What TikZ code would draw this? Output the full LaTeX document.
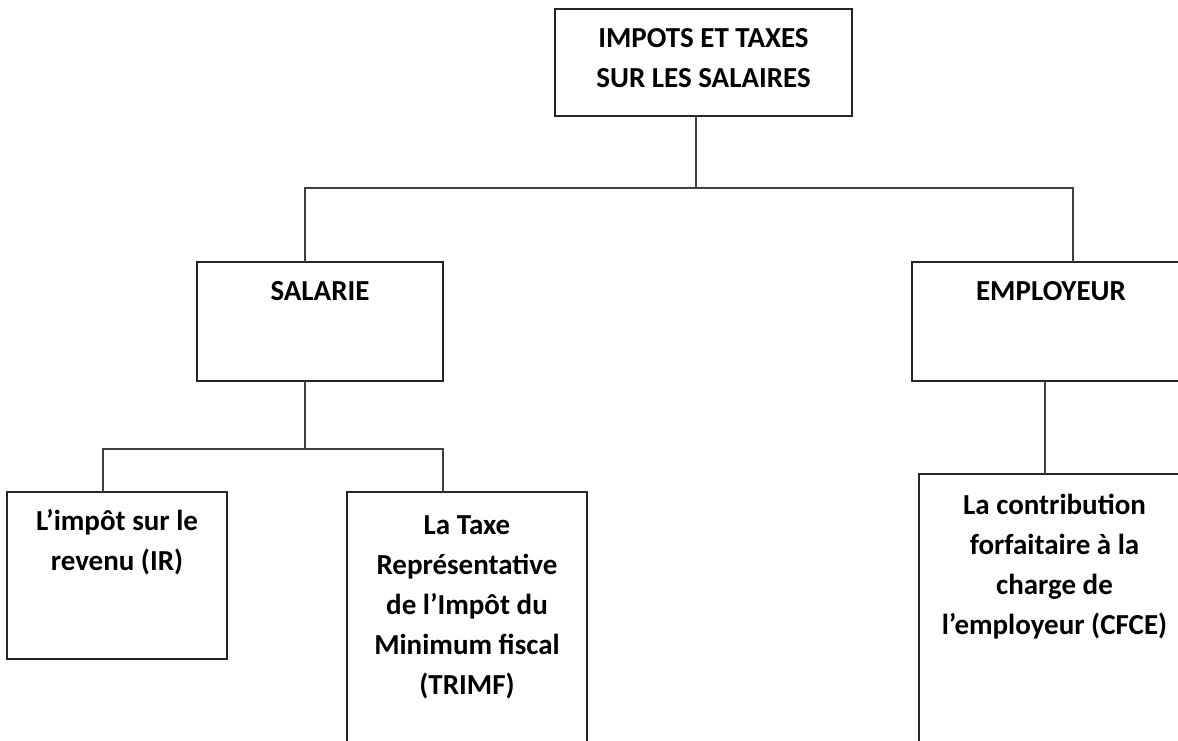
\documentclass[tikz,border=0pt]{standalone}
\usepackage{fontspec}
\setmainfont{Carlito}
\begin{document}
\begin{tikzpicture}[x=1pt,y=-1pt,
  box/.style={draw=black!85, line width=1.1pt, rectangle, inner sep=0pt, outer sep=0pt},
  lbl/.style={anchor=north, inner sep=0pt, align=center, font=\bfseries\fontsize{29}{40}\selectfont},
  conn/.style={draw=black!75, line width=1.1pt}]
\clip (0,0) rectangle (1178,740);
\fill[white] (0,0) rectangle (1178,740);
% boxes
\node[box, minimum width=297pt, minimum height=107pt] (top) at (703.5,62.5) {};
\node[box, minimum width=246pt, minimum height=119pt] (sal) at (320,321.5) {};
\node[box, minimum width=278pt, minimum height=119pt] (emp) at (1051,321.5) {};
\node[box, minimum width=220pt, minimum height=167pt] (ir) at (117,575.5) {};
\node[box, minimum width=240pt, minimum height=268pt] (trimf) at (467,626) {};
\node[box, minimum width=271pt, minimum height=286pt] (cfce) at (1054.5,617) {};
% labels
\node[lbl] (toplbl) at (top.north) {\rule{0pt}{38pt}IMPOTS ET TAXES\\SUR LES SALAIRES};
\node[lbl] (sallbl) at (sal.north) {\rule{0pt}{38pt}SALARIE};
\node[lbl] (emplbl) at (emp.north) {\rule{0pt}{38pt}EMPLOYEUR};
\node[lbl] (irlbl) at (ir.north) {\rule{0pt}{38pt}L’impôt sur le\\revenu (IR)};
\node[lbl] (trimflbl) at (trimf.north) {\rule{0pt}{42pt}La Taxe\\Représentative\\de l’Impôt du\\Minimum fiscal\\(TRIMF)};
\node[lbl] (cfcelbl) at (cfce.north) {\rule{0pt}{40pt}La contribution\\forfaitaire à la\\charge de\\l’employeur (CFCE)};
% connectors
\coordinate (j0) at (696,188);
\coordinate (jl) at (305,188);
\coordinate (jr) at (1073,188);
\coordinate (k0) at (305,449);
\coordinate (kl) at (103,449);
\coordinate (kr) at (443,449);
\coordinate (m0) at (1045,474);
\draw[conn] (top.south -| j0) -- (j0);
\draw[conn] (sal.north -| jl) -- (jl) -- (jr) -- (emp.north -| jr);
\draw[conn] (sal.south -| k0) -- (k0);
\draw[conn] (ir.north -| kl) -- (kl) -- (kr) -- (trimf.north -| kr);
\draw[conn] (emp.south -| m0) -- (cfce.north -| m0);
\end{tikzpicture}
\end{document}
